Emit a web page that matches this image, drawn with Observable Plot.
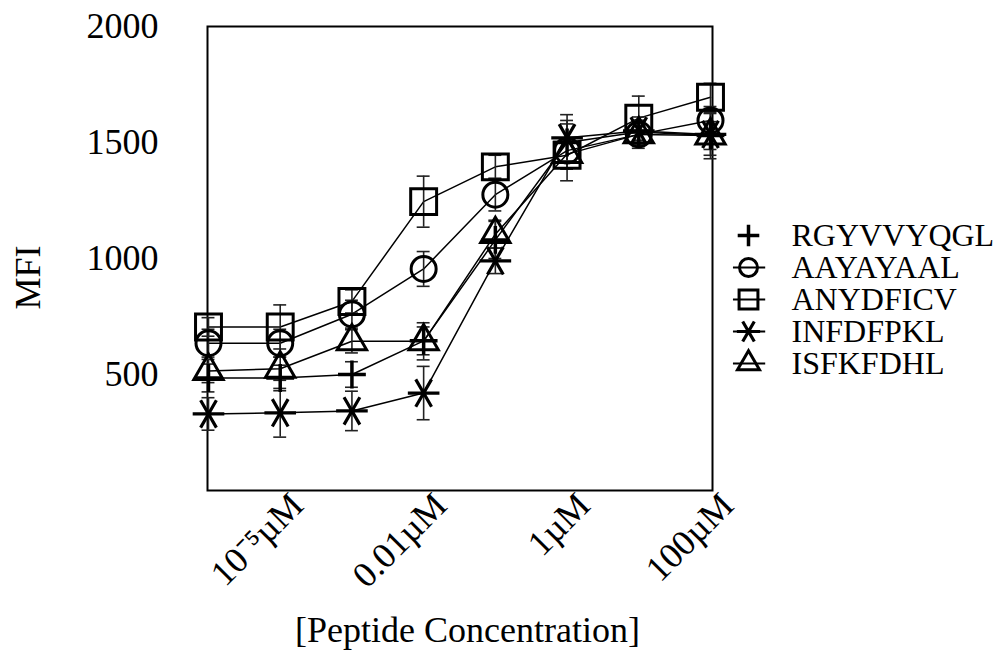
<!DOCTYPE html>
<html><head><meta charset="utf-8">
<script src="https://cdn.jsdelivr.net/npm/d3@7"></script>
<script src="https://cdn.jsdelivr.net/npm/@observablehq/plot@0.6"></script>
<style>
body{margin:0;background:#fff;}
#wrap{position:relative;width:1000px;height:653px;font-family:"Liberation Serif","Times New Roman",serif;}
#legend{position:absolute;left:730px;top:190px;}
</style></head><body>
<div id="wrap"><div id="chart"></div><div id="legend"></div></div>
<script>
// ---- data ----
const concIndex = [0, 1, 2, 3, 4, 5, 6, 7];
const tickIndex = [1, 3, 5, 7];
const tickLabels = ["10⁻⁵µM", "0.01µM", "1µM", "100µM"];
const yTicks = [500, 1000, 1500, 2000];
const seriesNames = ["RGYVVYQGL", "AAYAYAAL", "ANYDFICV", "INFDFPKL", "ISFKFDHL"];
const symbols = ["plus", "circle", "square2", "asterisk", "triangle2"];

const RGYVVYQGL = [485, 485, 500, 645, 1080, 1500, 1545, 1530];
const AAYAYAAL  = [635, 635, 760, 955, 1275, 1465, 1535, 1595];
const ANYDFICV  = [705, 705, 815, 1245, 1395, 1445, 1605, 1695];
const INFDFPKL  = [330, 335, 343, 420, 990, 1520, 1550, 1535];
const ISFKFDHL  = [515, 525, 643, 643, 1105, 1450, 1535, 1530];

const errRGYVVYQGL = [60, 55, 55, 60, 80, 80, 50, 60];
const errAAYAYAAL  = [60, 60, 60, 75, 70, 130, 60, 60];
const errANYDFICV  = [40, 95, 50, 110, 50, 60, 95, 60];
const errINFDFPKL  = [70, 105, 85, 115, 55, 100, 60, 90];
const errISFKFDHL  = [50, 50, 50, 80, 60, 60, 50, 100];

const values = [RGYVVYQGL, AAYAYAAL, ANYDFICV, INFDFPKL, ISFKFDHL];
const errors = [errRGYVVYQGL, errAAYAYAAL, errANYDFICV, errINFDFPKL, errISFKFDHL];

const rows = [];
seriesNames.forEach((s, k) => concIndex.forEach((c, j) => rows.push({series: s, i: c, v: values[k][j], e: errors[k][j]})));

// ---- style ----
const dotStyle = {
  RGYVVYQGL: {r: 9, strokeWidth: 3.5, rotate: 0},
  AAYAYAAL: {r: 12.5, strokeWidth: 3, rotate: 0},
  ANYDFICV: {r: 16.5, strokeWidth: 3, rotate: 0},
  INFDFPKL: {r: 15, strokeWidth: 3.2, rotate: 90},
  ISFKFDHL: {r: 14, strokeWidth: 3, rotate: 0}
};
const font = "'Liberation Serif','Times New Roman',serif";

const marks = [
  Plot.frame({stroke: "black", strokeWidth: 2, insetLeft: -1, insetRight: -2})
];
seriesNames.forEach(s => {
  const d = rows.filter(r => r.series === s);
  marks.push(Plot.line(d, {x: "i", y: "v", stroke: "black", strokeWidth: 1.5}));
});
marks.push(Plot.ruleX(rows, {x: "i", y1: d => d.v - d.e, y2: d => d.v + d.e, stroke: "#222", strokeWidth: 1.6}));
marks.push(Plot.ruleY(rows, {y: d => d.v + d.e, x1: d => d.i - 0.09, x2: d => d.i + 0.09, stroke: "#222", strokeWidth: 1.6}));
marks.push(Plot.ruleY(rows, {y: d => d.v - d.e, x1: d => d.i - 0.09, x2: d => d.i + 0.09, stroke: "#222", strokeWidth: 1.6}));
seriesNames.forEach((s, k) => {
  const d = rows.filter(r => r.series === s);
  const st = dotStyle[s];
  marks.push(Plot.dot(d, {x: "i", y: "v", symbol: () => symbols[k], r: st.r, stroke: "black", fill: "none", strokeWidth: st.strokeWidth, rotate: st.rotate}));
});
marks.push(Plot.axisY(yTicks, {tickSize: 0, tickPadding: 50, label: null, fontSize: 36, tickFormat: d => String(d)}));
marks.push(Plot.text(tickIndex, {x: d => d, text: (d, i) => tickLabels[i], frameAnchor: "bottom", rotate: -45, textAnchor: "end", lineAnchor: "middle", dx: 17, dy: 9, fontSize: 36}));
marks.push(Plot.text(["[Peptide Concentration]"], {text: d => d, frameAnchor: "bottom", dx: 8, dy: 140, lineAnchor: "middle", fontSize: 36}));
marks.push(Plot.text(["MFI"], {text: d => d, frameAnchor: "left", rotate: -90, dx: -180, dy: 51, lineAnchor: "middle", fontSize: 36}));

const chart = Plot.plot({
  width: 1000, height: 653,
  marginLeft: 208, marginRight: 290, marginTop: 26, marginBottom: 163,
  x: {domain: [0, 7], axis: null},
  y: {domain: [0, 2000], axis: null},
  symbol: {type: "identity"},
  style: {fontFamily: font, fontSize: "36px", color: "black", background: "white", overflow: "visible"},
  marks
});
document.getElementById("chart").appendChild(chart);

// ---- legend ----
const legendDot = {
  RGYVVYQGL: {r: 7, strokeWidth: 3.5, rotate: 0, stub: false},
  AAYAYAAL: {r: 9, strokeWidth: 3, rotate: 0, stub: true},
  ANYDFICV: {r: 12, strokeWidth: 3, rotate: 0, stub: true},
  INFDFPKL: {r: 11, strokeWidth: 3.2, rotate: 90, stub: true},
  ISFKFDHL: {r: 10.5, strokeWidth: 3, rotate: 0, stub: true}
};
const legendMarks = [];
legendMarks.push(Plot.ruleY(seriesNames.filter(s => legendDot[s].stub), {y: d => d, x1: -0.35, x2: 0.4, stroke: "black", strokeWidth: 2}));
seriesNames.forEach((s, k) => {
  const st = legendDot[s];
  legendMarks.push(Plot.dot([s], {x: () => 0, y: d => d, symbol: () => symbols[k], r: st.r, stroke: "black", fill: "none", strokeWidth: st.strokeWidth, rotate: st.rotate}));
});
legendMarks.push(Plot.text(seriesNames, {x: () => 1, y: d => d, text: d => d, textAnchor: "start", lineAnchor: "middle", fontSize: 32}));
const legend = Plot.plot({
  width: 270, height: 230,
  margin: 0,
  x: {domain: [0, 1], range: [18, 61], axis: null},
  y: {type: "point", domain: seriesNames, range: [27, 190], axis: null},
  symbol: {type: "identity"},
  style: {fontFamily: font, fontSize: "32px", color: "black", background: "transparent", overflow: "visible"},
  marks: legendMarks
});
document.getElementById("legend").appendChild(legend);
</script>
</body></html>
